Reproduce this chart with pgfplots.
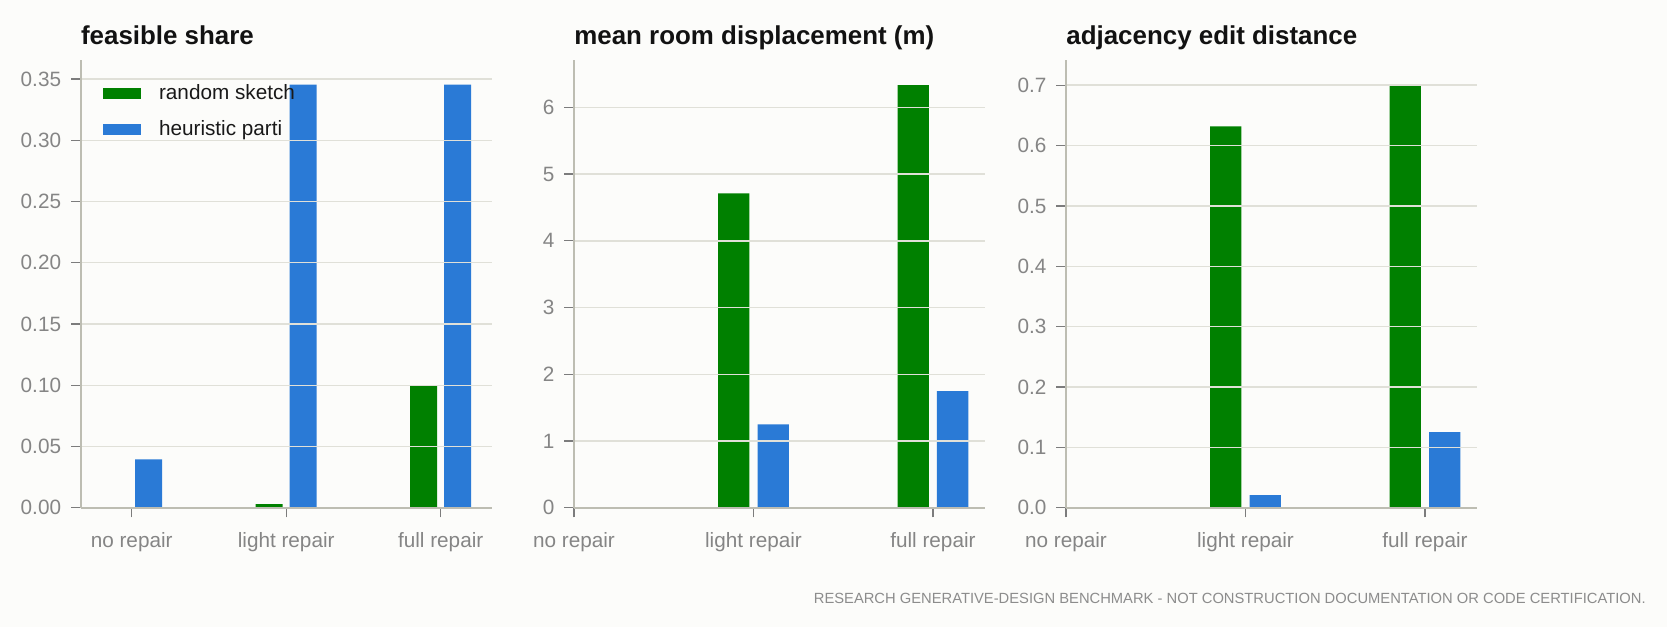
\documentclass[border=0pt]{standalone}
\usepackage{pgfplots}
\pgfplotsset{compat=1.18}
\usepackage{fontspec}
\setmainfont{Liberation Sans}

\definecolor{bgc}{HTML}{FCFCFA}
\definecolor{gsketch}{HTML}{008000}
\definecolor{bparti}{HTML}{2A7AD6}
\definecolor{gridc}{HTML}{E0E0D8}
\definecolor{axisc}{HTML}{BDBDB2}
\definecolor{tickc}{HTML}{7C7C7C}
\definecolor{labc}{HTML}{858585}
\definecolor{footc}{HTML}{8C8C8C}

\pgfplotsset{
  panel/.style={
    scale only axis,
    width=205.5bp, height=223.85bp,
    anchor=south west,
    ymin=0,
    axis x line*=bottom, axis y line*=left,
    axis line style={-, color=axisc, line width=1bp},
    axis on top,
    ymajorgrids,
    grid style={color=gridc, line width=0.7bp},
    tick align=outside,
    major tick length=4.8bp,
    tick style={color=tickc, line width=0.65bp},
    xtick={0,1,2},
    xticklabels={no repair, light repair, full repair},
    ticklabel style={font=\fontsize{10.4}{12}\selectfont, text=labc},
    yticklabel style={xshift=-1.5bp},
    xticklabel style={yshift=-4bp},
    /pgf/number format/assume math mode=true,
    title style={at={(0,1)}, anchor=base west, yshift=1.8bp, inner sep=0pt,
      font=\fontsize{13}{15}\bfseries\selectfont, text=black!93},
    ybar, bar width=0.175,
    legend image code/.code={\fill[#1,draw=none] (0bp,-2.75bp) rectangle (19bp,2.75bp);
      \path (26bp,0bp);},
  },
}

\begin{document}
\begin{tikzpicture}
\fill[bgc] (0,0) rectangle (833.5bp,313.5bp);
\useasboundingbox (0,0) rectangle (833.5bp,313.5bp);

% panel 1
\begin{axis}[panel, at={(40.35bp,59.65bp)},
  title={feasible share},
  xmin=-0.33, xmax=2.33, ymax=0.3655,
  ytick={0,0.05,0.10,0.15,0.20,0.25,0.30,0.35},
  yticklabel style={/pgf/number format/.cd, fixed, fixed zerofill, precision=2},
  legend style={at={(0,1)}, anchor=north west, xshift=8bp, yshift=-8bp,
    draw=none, fill=none, font=\fontsize{10.4}{12}\selectfont, text=black!90,
    row sep=5bp},
  legend cell align=left,
]
\addplot[fill=gsketch, draw=none, bar shift=-0.11] coordinates {(0,0) (1,0.003) (2,0.0995)};
\addplot[fill=bparti, draw=none, bar shift=0.11] coordinates {(0,0.0395) (1,0.3453) (2,0.3453)};
\legend{random sketch, heuristic parti}
\end{axis}

% panel 2
\begin{axis}[panel, at={(287bp,59.65bp)},
  title={mean room displacement (m)},
  xmin=0, xmax=2.29, ymax=6.71,
  ytick={0,1,2,3,4,5,6},
]
\addplot[fill=gsketch, draw=none, bar shift=-0.11] coordinates {(0,0) (1,4.71) (2,6.334)};
\addplot[fill=bparti, draw=none, bar shift=0.11] coordinates {(0,0) (1,1.25) (2,1.747)};
\end{axis}

% panel 3
\begin{axis}[panel, at={(533bp,59.65bp)},
  title={adjacency edit distance},
  xmin=0, xmax=2.29, ymax=0.7417,
  ytick={0,0.1,0.2,0.3,0.4,0.5,0.6,0.7},
  yticklabel style={/pgf/number format/.cd, fixed, fixed zerofill, precision=1},
]
\addplot[fill=gsketch, draw=none, bar shift=-0.11] coordinates {(0,0) (1,0.6317) (2,0.699)};
\addplot[fill=bparti, draw=none, bar shift=0.11] coordinates {(0,0) (1,0.021) (2,0.125)};
\end{axis}

\node[anchor=base east, inner sep=0pt, text=footc, font=\fontsize{7.4}{8}\selectfont]
  at (823bp,12bp) {RESEARCH GENERATIVE-DESIGN BENCHMARK - NOT CONSTRUCTION DOCUMENTATION OR CODE CERTIFICATION.};
\end{tikzpicture}
\end{document}
